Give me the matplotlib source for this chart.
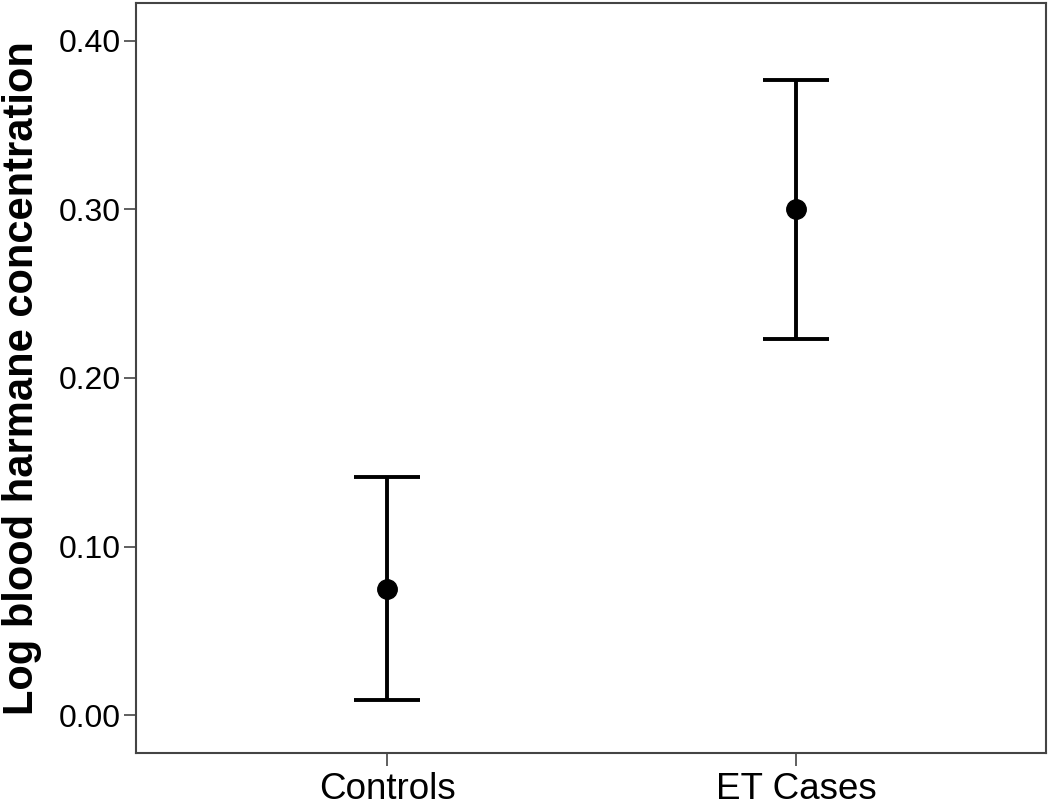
import matplotlib
matplotlib.use("Agg")
import matplotlib.pyplot as plt

categories = ["Controls", "ET Cases"]
means = [0.075, 0.300]
lower = [0.009, 0.223]
upper = [0.141, 0.377]
yticks = [0.00, 0.10, 0.20, 0.30, 0.40]
ytick_labels = ["0.00", "0.10", "0.20", "0.30", "0.40"]

plt.rcParams['font.family'] = ['Liberation Sans', 'DejaVu Sans']

fig = plt.figure(figsize=(10.5, 8.06), dpi=100)
ax = fig.add_axes([0.1295, 0.0658, 0.8667, 0.9305])

x = list(range(len(categories)))
err_lo = [m - l for m, l in zip(means, lower)]
err_hi = [u - m for m, u in zip(means, upper)]
ax.errorbar(x, means, yerr=[err_lo, err_hi], fmt='o', color='black',
            markersize=14, elinewidth=2.8, capsize=24, capthick=2.8)

ax.set_xlim(-0.614, 1.611)
ax.set_ylim(-0.0225, 0.4225)
ax.set_xticks(x)
ax.set_xticklabels(categories, fontsize=26.5)
ax.set_yticks(yticks)
ax.set_yticklabels(ytick_labels, fontsize=23)
ax.set_ylabel("Log blood harmane concentration", fontsize=30, fontweight='bold', labelpad=12)

for s in ax.spines.values():
    s.set_color('#444444')
    s.set_linewidth(1.5)
ax.tick_params(axis='both', direction='out', length=9, width=1.2, color='#444444')
ax.tick_params(axis='x', pad=5)
ax.tick_params(axis='y', pad=2)

fig.savefig("out.png", dpi=100)
